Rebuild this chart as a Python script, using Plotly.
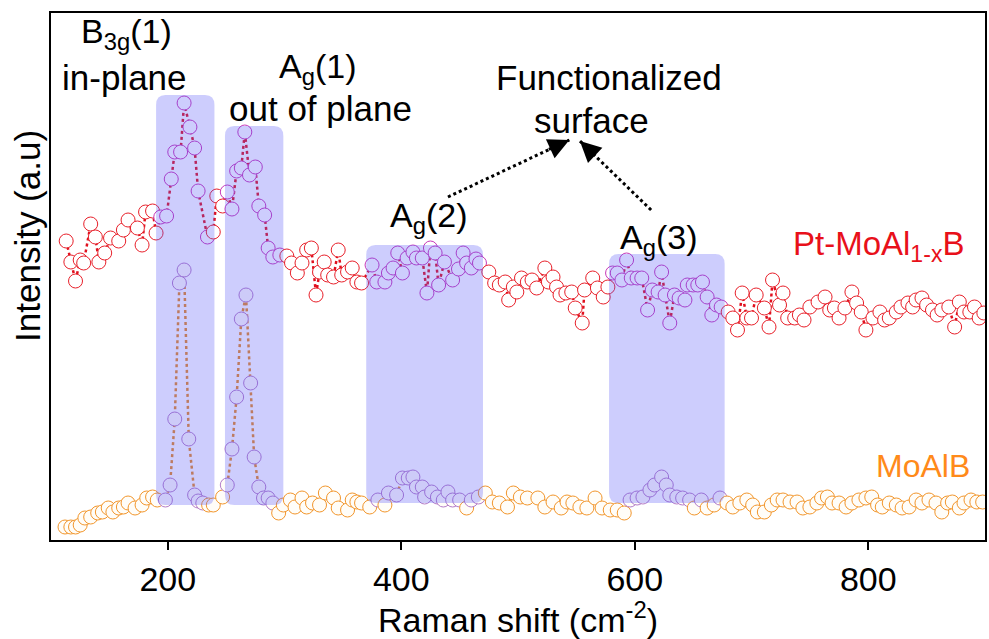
import plotly.graph_objects as go

# ---------------- data ----------------
red_x = [113,117,121,125,128,134,138,141,146,151,158,162,166,174,178,181,187,190,194,199,
         203,206,211,214,219,223,226,234,239,242,247,251,255,259,263,266,270,275,278,283,
         286,290,296,302,306,311,315,319,323,327,330,334,337,342,346,349,354,358,362,366,
         375,379,386,389,393,397,401,405,410,413,418,422,425,429,432,437,444,449,453,456,
         460,464,467,475,480,484,489,492,496,499,503,508,512,516,523,526,530,533,536,541,
         546,549,555,557,564,568,573,577,581,585,589,593,597,602,606,611,615,620,623,626,
         630,634,638,643,645,650,654,658,662,666,670,674,680,684,688,692,696,700,704,711,
         715,718,724,727,731,737,741,745,750,757,763,767,771,775,780,786,790,794,798,804,
         810,814,818,824,828,834,838,841,846,850,855,859,863,869,874,878,882,887,891,895,899]
red_y = [299,278,259,280,277,316,303,278,287,302,299,310,320,312,295,328,329,307,323,324,
         361,388,388,437,413,392,349,303,308,344,334,348,331,369,372,408,365,373,334,325,
         292,283,285,284,277,267,277,290,292,245,268,278,265,263,290,265,268,272,258,257,
         275,258,258,267,272,287,267,282,288,282,282,247,292,287,255,278,260,271,287,277,
         272,281,277,268,257,255,258,240,253,248,262,258,260,252,272,258,263,253,245,247,
         248,232,217,250,262,252,243,253,267,267,260,280,262,262,262,230,250,248,268,245,
         217,245,242,240,255,255,255,258,243,225,235,233,228,222,210,247,222,222,245,232,
         213,260,235,247,222,222,225,220,233,238,243,230,232,222,232,248,237,228,210,222,
         228,220,222,228,233,237,233,240,242,235,230,225,230,233,213,238,228,228,233,222,227]

orange_x = [112,117,121,125,129,134,140,144,149,153,158,162,166,172,178,182,187,191,198,202,
            206,210,214,218,223,226,230,235,239,247,251,255,259,263,267,271,274,278,282,286,
            290,295,299,305,309,315,319,324,330,335,342,346,354,358,362,366,373,380,386,389,
            396,401,406,410,413,418,420,426,431,436,440,444,450,456,460,466,472,478,484,491,
            496,502,508,517,523,530,537,542,547,553,559,566,572,579,585,591,596,602,607,613,
            617,623,627,630,636,641,647,651,657,662,668,673,679,684,690,696,701,705,711,717,
            722,727,733,739,744,750,756,760,765,769,775,781,786,792,798,803,808,812,818,824,
            829,835,841,846,852,858,863,868,872,878,882,888,893,898]
orange_y = [13,13,13,15,22,23,27,28,32,28,32,33,37,32,35,42,43,40,40,55,
            121,257,270,101,45,39,37,35,35,43,55,91,143,221,245,157,83,53,42,42,
            37,27,35,40,33,42,33,37,35,47,42,32,30,40,38,37,33,40,35,47,
            45,62,62,63,53,53,43,48,43,40,48,40,40,32,40,43,47,38,37,33,
            47,43,42,42,33,38,32,38,37,33,32,42,32,30,30,27,40,42,43,50,
            55,63,55,45,43,42,40,32,40,32,35,42,37,33,37,40,35,28,28,35,
            40,40,38,38,32,33,37,42,43,37,37,33,37,40,42,43,35,33,37,35,
            32,33,40,37,40,37,28,37,38,32,37,40,38,38]

tick_vals = [200, 400, 600, 800]

# highlighted Raman bands (x0, x1, bottom, top)
band_x0 = [190, 249, 370, 578]
band_x1 = [240, 299, 470, 677]
band_bottom = [35, 35, 37, 37]
band_top = [445, 414, 295, 286]

FONT = "Liberation Sans, Arial, sans-serif"
FS = 35


def in_band(x, y):
    for x0, x1, y0, y1 in zip(band_x0, band_x1, band_bottom, band_top):
        if x0 + 2 <= x <= x1 - 2 and y0 + 2 <= y <= y1 + 4:
            return True
    return False


red_edge = ["#C838B8" if in_band(x, y) else "#E8202A" for x, y in zip(red_x, red_y)]
orange_edge = ["#B47CC8" if in_band(x, y) else "#F2962C" for x, y in zip(orange_x, orange_y)]

fig = go.Figure()

fig.add_trace(go.Scatter(
    x=orange_x, y=orange_y, mode="lines+markers", name="MoAlB",
    line=dict(color="#E88A20", width=2.5, dash="dot"),
    marker=dict(symbol="circle", size=14, color="#FFFDF8",
                line=dict(color=orange_edge, width=1)),
))
fig.add_trace(go.Scatter(
    x=red_x, y=red_y, mode="lines+markers", name="Pt-MoAl1-xB",
    line=dict(color="#E0101E", width=2.5, dash="dot"),
    marker=dict(symbol="circle", size=14, color="#FFFFFF",
                line=dict(color=red_edge, width=1)),
))

# rounded translucent bands
rx, ry = 8, 10
for x0, x1, y0, y1 in zip(band_x0, band_x1, band_bottom, band_top):
    path = (f"M {x0+rx},{y0} L {x1-rx},{y0} Q {x1},{y0} {x1},{y0+ry} "
            f"L {x1},{y1-ry} Q {x1},{y1} {x1-rx},{y1} "
            f"L {x0+rx},{y1} Q {x0},{y1} {x0},{y1-ry} "
            f"L {x0},{y0+ry} Q {x0},{y0} {x0+rx},{y0} Z")
    fig.add_shape(type="path", path=path, xref="x", yref="y", layer="above",
                  fillcolor="rgba(90,90,250,0.30)", line=dict(width=0))

# dotted arrows toward "Functionalized surface"
arrows = [((440, 343), (544, 400), -22, 10), ((614, 330), (553, 399), 17, 16)]
for (tx, ty), (hx, hy), ax, ay in arrows:
    fig.add_shape(type="line", x0=tx, y0=ty, x1=hx, y1=hy, xref="x", yref="y",
                  line=dict(color="black", width=3, dash="dot"), layer="above")
    fig.add_annotation(x=hx, y=hy, ax=ax, ay=ay, text="", showarrow=True,
                       arrowhead=2, arrowsize=1.4, arrowwidth=3, arrowcolor="black")

labels = [
    ("B<sub>3g</sub>(1)", 165, 507, "black", 34),
    ("in-plane", 163, 463, "black", 35),
    ("A<sub>g</sub>(1)", 329, 472, "black", 34),
    ("out of plane", 331, 432, "black", 35),
    ("Functionalized", 578, 463, "black", 35),
    ("surface", 563, 420, "black", 35),
    ("A<sub>g</sub>(2)", 424, 323, "black", 34),
    ("A<sub>g</sub>(3)", 621, 301, "black", 34),
    ("Pt-MoAl<sub>1-x</sub>B", 809, 294, "#E8101A", 33),
    ("MoAlB", 847, 74, "#FF8A1A", 32),
]
for txt, x, y, col, fs in labels:
    fig.add_annotation(x=x, y=y, text=txt, showarrow=False,
                       font=dict(family=FONT, size=fs, color=col),
                       xanchor="center", yanchor="middle")

# y-axis title placed as in the reference (shifted above centre)
fig.add_annotation(x=-0.0246, y=0.577, xref="paper", yref="paper",
                   text="Intensity (a.u)", textangle=-90, showarrow=False,
                   font=dict(family=FONT, size=FS, color="black"),
                   xanchor="center", yanchor="middle")

fig.update_layout(
    width=989, height=639,
    margin=dict(l=51, r=2, t=13, b=99),
    paper_bgcolor="white", plot_bgcolor="white",
    showlegend=False,
    font=dict(family=FONT, size=FS, color="black"),
    xaxis=dict(range=[100, 900], tickvals=tick_vals, ticks="outside", ticklen=8,
               tickwidth=2, tickcolor="black", showline=True, linewidth=2,
               linecolor="black", mirror=True, showgrid=False, zeroline=False,
               tickfont=dict(family=FONT, size=34),
               title=dict(text="Raman shift (cm<sup>-2</sup>)", standoff=9,
                          font=dict(family=FONT, size=34))),
    yaxis=dict(range=[0, 527], showticklabels=False, ticks="", showline=True,
               linewidth=2, linecolor="black", mirror=True, showgrid=False,
               zeroline=False),
)

fig.write_html("out.html")
